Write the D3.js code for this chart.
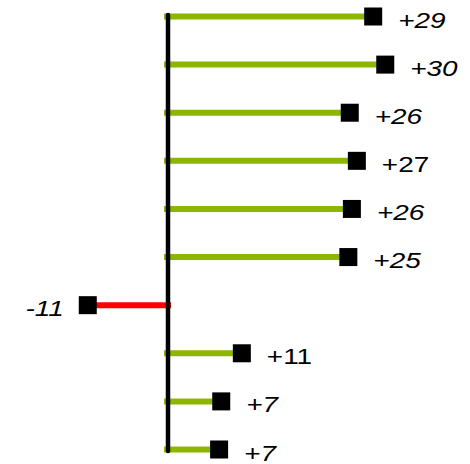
<!DOCTYPE html>
<html>
<head>
<meta charset="utf-8">
<script src="https://cdn.jsdelivr.net/npm/d3@7"></script>
<style>
  html, body { margin: 0; padding: 0; background: #fff; }
  svg { display: block; }
</style>
</head>
<body>
<svg id="chart" width="470" height="464"></svg>
<script>
const rows = ["r1","r2","r3","r4","r5","r6","r7","r8","r9","r10"];
const values = [28.9, 30.6, 25.6, 26.6, 25.9, 25.4, -11.3, 10.4, 7.5, 7.2];
const labels = ["+29","+30","+26","+27","+26","+25","-11","+11","+7","+7"];
const italic = [true, true, true, false, true, true, true, false, true, true];

const svg = d3.select("#chart");
const x = d3.scaleLinear().domain([-15, 35]).range([61.5, 416.5]);
const y = d3.scalePoint().domain(rows).range([16.5, 449.5]);
const x0 = x(0);

const data = rows.map((r, i) => ({ r, v: values[i], label: labels[i], it: italic[i] }));

// stems
svg.selectAll("line.stem").data(data).enter().append("line")
  .attr("class", "stem")
  .attr("x1", d => d.v >= 0 ? x0 - 4 : x0 + 3)
  .attr("x2", d => x(d.v))
  .attr("y1", d => y(d.r))
  .attr("y2", d => y(d.r))
  .attr("stroke", d => d.v >= 0 ? "#8db600" : "#ff0000")
  .attr("stroke-width", 6);

// axis line
svg.append("line")
  .attr("x1", x0).attr("x2", x0)
  .attr("y1", 15).attr("y2", 451)
  .attr("stroke", "#000")
  .attr("stroke-width", 4.5)
  .attr("stroke-linecap", "round");

// markers
const s = 18;
svg.selectAll("rect.mk").data(data).enter().append("rect")
  .attr("class", "mk")
  .attr("x", d => x(d.v) - s / 2)
  .attr("y", d => y(d.r) - s / 2)
  .attr("width", s).attr("height", s)
  .attr("fill", "#000");

// labels (horizontally stretched text as in the reference)
const stretch = 1.27;
svg.selectAll("text.lb").data(data).enter().append("text")
  .attr("class", "lb")
  .attr("transform", d => `translate(${d.v >= 0 ? x(d.v) + 25 : x(d.v) - 24},${y(d.r) + 11}) scale(${stretch},1)`)
  .attr("text-anchor", d => d.v >= 0 ? "start" : "end")
  .attr("font-family", "Liberation Sans, Arial, sans-serif")
  .attr("font-size", 22)
  .attr("font-style", d => d.it ? "italic" : "normal")
  .attr("fill", "#000")
  .text(d => d.label);
</script>
</body>
</html>
